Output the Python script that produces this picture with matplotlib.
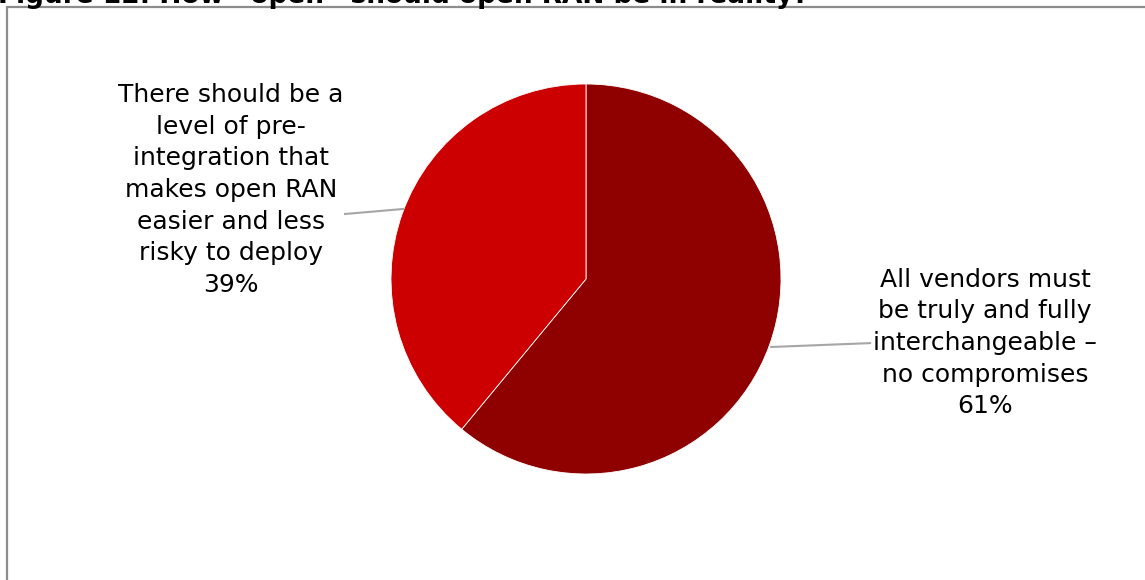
import matplotlib
matplotlib.use("Agg")
import matplotlib.pyplot as plt
from matplotlib.patches import Rectangle

categories = ["All vendors must\nbe truly and fully\ninterchangeable –\nno compromises",
              "There should be a\nlevel of pre-\nintegration that\nmakes open RAN\neasier and less\nrisky to deploy"]
values = [61, 39]
colors = ["#8F0000", "#CC0000"]
title = "Figure 12: How \u201copen\u201d should open RAN be in reality?"

W, H = 1145, 580
fig = plt.figure(figsize=(W / 100, H / 100), dpi=100)
ax = fig.add_axes([0, 0, 1, 1])

cx, cy, r = 586, H - 279, 195
wedges, _ = ax.pie(values, colors=colors, startangle=90, counterclock=False,
                   center=(cx, cy), radius=r, frame=True,
                   wedgeprops=dict(linewidth=0.6, edgecolor="white"))
ax.set_xlim(0, W)
ax.set_ylim(0, H)
ax.set_aspect("equal")
ax.axis("off")

# border
ax.add_patch(Rectangle((7, -20), W + 40, H - 7 + 20, fill=False,
                       edgecolor="#8c8c8c", linewidth=1.6, clip_on=False))

fs = 18
ls = 1.4
# right label
ax.annotate(f"{categories[0]}\n{values[0]}%", xy=(771, H - 347), xytext=(985, H - 343),
            ha="center", va="center", fontsize=fs, linespacing=ls,
            arrowprops=dict(arrowstyle="-", color="#a6a6a6", lw=1.5,
                            shrinkA=0, shrinkB=0, relpos=(0, 0.5)))
# left label
ax.annotate(f"{categories[1]}\n{values[1]}%", xy=(403, H - 209), xytext=(231, H - 190),
            ha="center", va="center", fontsize=fs, linespacing=ls)
ax.plot([345, 403], [H - 214, H - 209], color="#a6a6a6", lw=1.5)

fig.text(-2 / W, 1 - 3 / H, title, fontsize=19, fontweight="bold", ha="left",
         va="baseline")

fig.savefig("out.png", dpi=100)
